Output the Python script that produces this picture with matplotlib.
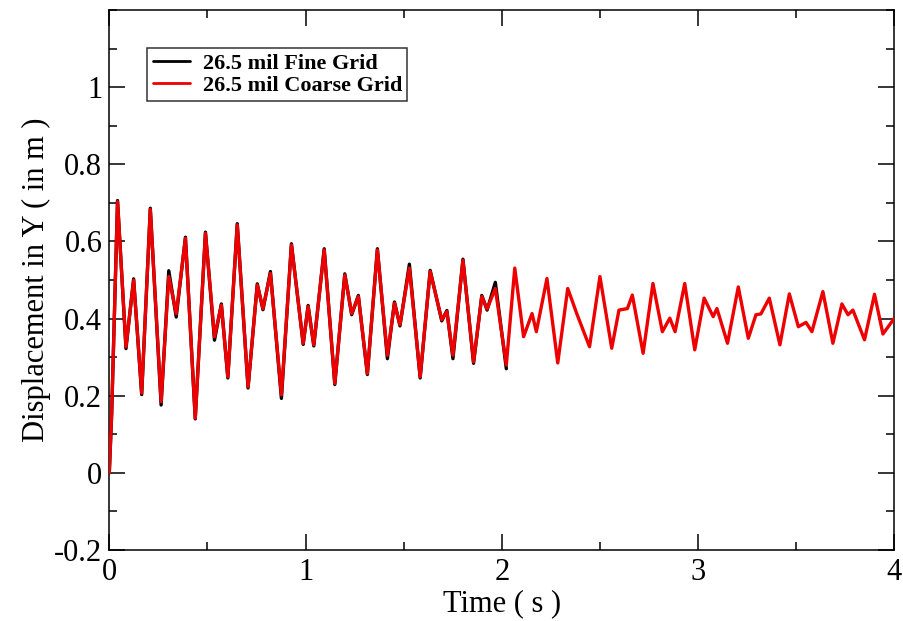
import matplotlib
matplotlib.use("Agg")
import matplotlib.pyplot as plt
from matplotlib.ticker import MultipleLocator

# Coarse grid run: turning points of the Y displacement history (time in s, displacement in m)
coarse_t = [0.000, 0.012, 0.042, 0.085, 0.124, 0.165, 0.209, 0.264, 0.303, 0.341,
            0.388, 0.438, 0.490, 0.536, 0.571, 0.604, 0.652, 0.707, 0.754, 0.783,
            0.821, 0.877, 0.928, 0.988, 1.013, 1.042, 1.095, 1.149, 1.200, 1.235,
            1.269, 1.315, 1.366, 1.417, 1.453, 1.481, 1.529, 1.584, 1.635, 1.694,
            1.720, 1.751, 1.802, 1.856, 1.898, 1.925, 1.967, 2.023, 2.066, 2.111,
            2.154, 2.176, 2.230, 2.285, 2.336, 2.384, 2.447, 2.500, 2.560, 2.597,
            2.640, 2.665, 2.720, 2.770, 2.818, 2.856, 2.883, 2.932, 2.983, 3.031,
            3.077, 3.096, 3.150, 3.205, 3.256, 3.295, 3.320, 3.363, 3.417, 3.465,
            3.511, 3.550, 3.580, 3.636, 3.687, 3.733, 3.764, 3.789, 3.848, 3.899,
            3.942, 4.000]
coarse_y = [0.000, 0.155, 0.703, 0.327, 0.500, 0.207, 0.683, 0.185, 0.509, 0.413,
            0.608, 0.142, 0.621, 0.353, 0.435, 0.249, 0.643, 0.223, 0.487, 0.426,
            0.517, 0.202, 0.591, 0.336, 0.431, 0.332, 0.578, 0.232, 0.513, 0.413,
            0.457, 0.258, 0.578, 0.305, 0.440, 0.384, 0.531, 0.249, 0.522, 0.397,
            0.418, 0.305, 0.551, 0.288, 0.457, 0.425, 0.478, 0.280, 0.531, 0.353,
            0.413, 0.366, 0.504, 0.285, 0.478, 0.410, 0.327, 0.509, 0.323, 0.422,
            0.426, 0.461, 0.310, 0.491, 0.366, 0.401, 0.366, 0.491, 0.319, 0.453,
            0.405, 0.426, 0.336, 0.482, 0.349, 0.410, 0.412, 0.453, 0.332, 0.464,
            0.379, 0.390, 0.366, 0.470, 0.336, 0.438, 0.410, 0.422, 0.345, 0.463,
            0.360, 0.401]

# Fine grid run (available up to about 2 s)
fine_t = [0.000, 0.012, 0.042, 0.085, 0.124, 0.165, 0.209, 0.264, 0.303, 0.341,
          0.388, 0.438, 0.490, 0.536, 0.571, 0.604, 0.652, 0.707, 0.754, 0.783,
          0.821, 0.877, 0.928, 0.988, 1.013, 1.042, 1.095, 1.149, 1.200, 1.235,
          1.269, 1.315, 1.366, 1.417, 1.453, 1.481, 1.529, 1.584, 1.635, 1.694,
          1.720, 1.751, 1.802, 1.856, 1.898, 1.925, 1.967, 2.023]
fine_y = [0.000, 0.150, 0.706, 0.322, 0.503, 0.203, 0.686, 0.176, 0.524, 0.404,
          0.611, 0.140, 0.624, 0.344, 0.438, 0.246, 0.646, 0.220, 0.490, 0.423,
          0.522, 0.193, 0.594, 0.333, 0.434, 0.329, 0.581, 0.229, 0.516, 0.410,
          0.460, 0.255, 0.581, 0.296, 0.443, 0.381, 0.541, 0.246, 0.525, 0.394,
          0.421, 0.296, 0.554, 0.284, 0.460, 0.422, 0.494, 0.270]

labels = ["26.5 mil Fine Grid", "26.5 mil Coarse Grid"]

plt.rcParams["font.family"] = ["Liberation Serif", "DejaVu Serif"]

fig = plt.figure(figsize=(9.04, 6.21), dpi=100)
ax = fig.add_axes([0.1209, 0.1143, 0.8684, 0.8696])

line_kw = dict(lw=2.4, solid_joinstyle="round", solid_capstyle="round")
ax.plot(fine_t, fine_y, color="black", label=labels[0], zorder=2, **line_kw)
ax.plot(coarse_t, coarse_y, color="#ee0000", label=labels[1], zorder=3, **line_kw)

ax.set_xlim(0, 4)
ax.set_ylim(-0.2, 1.2)
ax.xaxis.set_minor_locator(MultipleLocator(0.5))
ax.yaxis.set_minor_locator(MultipleLocator(0.1))

ax.set_yticks([-0.2, 0, 0.2, 0.4, 0.6, 0.8, 1.0])
ax.set_yticklabels(["-0.2", "0", "0.2", "0.4", "0.6", "0.8", "1"])
ax.set_xticks([0, 1, 2, 3, 4])
ax.set_xticklabels(["0", "1", "2", "3", "4"])

ax.tick_params(which="both", direction="in", top=True, right=True,
               width=1.1, labelsize=22, colors="black")
ax.tick_params(which="major", length=11.5)
ax.tick_params(axis="y", which="major", pad=5)
ax.tick_params(axis="x", which="major", pad=6)
ax.tick_params(which="minor", length=5.5)
for s in ax.spines.values():
    s.set_linewidth(1.1)

ax.set_xlabel("Time ( s )", fontsize=22, labelpad=1)
ax.set_ylabel("Displacement in Y ( in m )", fontsize=22, labelpad=2)

leg = ax.legend(loc="upper left", bbox_to_anchor=(0.048, 0.93),
                prop={"family": ["Liberation Serif"], "weight": "bold", "size": 16},
                frameon=True, fancybox=False, handlelength=1.7, handletextpad=0.55,
                borderpad=0.25, labelspacing=0.05, borderaxespad=0)
leg.get_frame().set_edgecolor("black")
leg.get_frame().set_linewidth(1.1)
for h in leg.get_lines():
    h.set_linewidth(2.0)

fig.savefig("out.png", dpi=100)
